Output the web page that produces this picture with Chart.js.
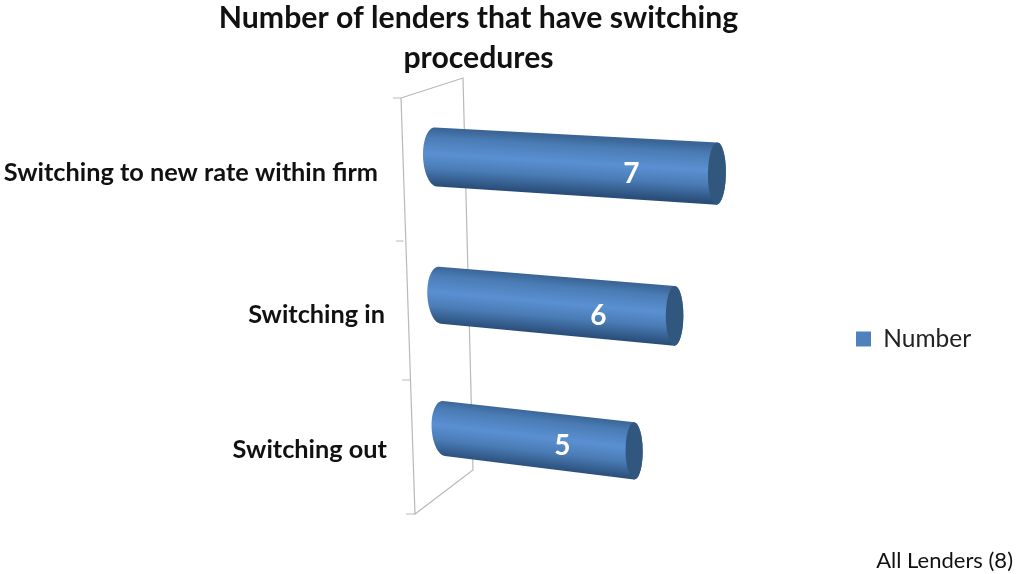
<!DOCTYPE html>
<html>
<head>
<meta charset="utf-8">
<title>Number of lenders that have switching procedures</title>
<script src="https://cdn.jsdelivr.net/npm/chart.js@4"></script>
<style>
  html, body { margin: 0; padding: 0; background: #fff; }
  canvas { display: block; }
</style>
</head>
<body>
<canvas id="chart" width="1017" height="574"></canvas>
<script>
const categories = ['Switching to new rate within firm', 'Switching in', 'Switching out'];
const numbers = [7, 6, 5];
const seriesName = 'Number';
const titleLines = ['Number of lenders that have switching', 'procedures'];
const footnote = 'All Lenders (8)';

// fake 3d look: flat plot pixels get bent a bit, like the excel perspective
const firstRowY = 157;
const rowSpan = 135.5;
function project(plotLeft, x, y) {
  const f = y - firstRowY;
  const bump = 2.5 * (1 - Math.pow((f - rowSpan) / rowSpan, 2));
  return {
    x: plotLeft + (x - plotLeft) * (1 - 0.000172 * f) + 0.03 * f,
    y: y + bump + (x - plotLeft) * (0.059 + 0.000196 * f)
  };
}

// side wall behind the bars
const wallLine = '#b9b9b9';
const wallOutline = [[401, 98], [463, 78], [473, 470], [415, 514]];
const wallTicks = [[393, 401, 98], [396, 403.5, 241], [402, 410, 380], [406, 415, 514]];

// label placement
const labelRight = [378, 385, 387];
const labelNudgeY = [16, 22.5, 22];
const valueAlong = [0.70, 0.68, 0.63];
const valueNudgeY = [5, 7, 3];

function halfEllipse(pts, plotLeft, cx, cy, rx, ry, from, to) {
  for (let i = 0; i <= 24; i++) {
    const a = from + (to - from) * i / 24;
    pts.push(project(plotLeft, cx + rx * Math.cos(a), cy + ry * Math.sin(a)));
  }
}

function tracePts(ctx, pts) {
  ctx.beginPath();
  pts.forEach((p, i) => i ? ctx.lineTo(p.x, p.y) : ctx.moveTo(p.x, p.y));
  ctx.closePath();
}

function drawCylinder(ctx, plotLeft, bar) {
  const ry = bar.height / 2;
  const leftRx = 13, capRx = 9;
  const body = [];
  halfEllipse(body, plotLeft, bar.base + 4, bar.y, leftRx, ry, -Math.PI / 2, -Math.PI * 1.5);
  halfEllipse(body, plotLeft, bar.x, bar.y, capRx, ry, Math.PI / 2, -Math.PI / 2);

  // shading runs across the cylinder, so it has to follow the slope
  const a = project(plotLeft, bar.base, bar.y);
  const b = project(plotLeft, bar.x, bar.y);
  const len = Math.hypot(b.x - a.x, b.y - a.y);
  const nx = -(b.y - a.y) / len, ny = (b.x - a.x) / len;
  const mx = (a.x + b.x) / 2, my = (a.y + b.y) / 2;
  const grad = ctx.createLinearGradient(mx - nx * ry, my - ny * ry, mx + nx * ry, my + ny * ry);
  grad.addColorStop(0, '#3a6596');
  grad.addColorStop(0.16, '#4a7cb5');
  grad.addColorStop(0.45, '#5a90d2');
  grad.addColorStop(0.7, '#4a7cb6');
  grad.addColorStop(1, '#2a4e79');
  tracePts(ctx, body);
  ctx.fillStyle = grad;
  ctx.fill();

  const cap = [];
  halfEllipse(cap, plotLeft, bar.x, bar.y, capRx, ry, 0, Math.PI * 2);
  tracePts(ctx, cap);
  ctx.fillStyle = '#31577f';
  ctx.fill();
}

const cylinderPlugin = {
  id: 'cylinders',
  afterLayout(chart) {
    // excel keeps title and legend where it wants them
    const t = chart.titleBlock;
    t.left = 0; t.right = 957;
    t.top -= 2; t.bottom -= 2;
    const l = chart.legend;
    const w = l.width, h = l.height;
    l.left = 846; l.right = 846 + w;
    l.top = 339 - h / 2; l.bottom = l.top + h;
  },
  beforeDatasetsDraw(chart) {
    const ctx = chart.ctx;
    ctx.save();
    ctx.strokeStyle = wallLine;
    ctx.lineWidth = 1.2;
    ctx.beginPath();
    wallOutline.forEach((p, i) => i ? ctx.lineTo(p[0], p[1]) : ctx.moveTo(p[0], p[1]));
    ctx.closePath();
    wallTicks.forEach(t => { ctx.moveTo(t[0], t[2]); ctx.lineTo(t[1], t[2]); });
    ctx.stroke();
    const plotLeft = chart.chartArea.left;
    chart.getDatasetMeta(0).data.forEach(bar => drawCylinder(ctx, plotLeft, bar));
    ctx.restore();
  },
  beforeDatasetDraw() {
    return false; // bars already painted as cylinders
  },
  afterDraw(chart) {
    const ctx = chart.ctx;
    const plotLeft = chart.chartArea.left;
    const yScale = chart.scales.y, xScale = chart.scales.x;
    ctx.save();
    ctx.textBaseline = 'middle';

    ctx.fillStyle = '#111';
    ctx.textAlign = 'right';
    ctx.font = 'bold 25.3px Lato';
    categories.forEach((c, i) => {
      ctx.fillText(c, labelRight[i], yScale.getPixelForValue(i) + labelNudgeY[i]);
    });

    ctx.fillStyle = '#fff';
    ctx.textAlign = 'center';
    ctx.font = 'bold 28px Lato';
    numbers.forEach((v, i) => {
      const p = project(plotLeft, xScale.getPixelForValue(v * valueAlong[i]), yScale.getPixelForValue(i));
      ctx.fillText(String(v), p.x, p.y + valueNudgeY[i]);
    });

    ctx.fillStyle = '#111';
    ctx.textAlign = 'right';
    ctx.font = '22px Lato';
    ctx.fillText(footnote, 1013, 561);
    ctx.restore();
  }
};

new Chart(document.getElementById('chart'), {
  type: 'bar',
  data: {
    labels: categories,
    datasets: [{
      label: seriesName,
      data: numbers,
      backgroundColor: '#4f81bd',
      barPercentage: 0.42,
      categoryPercentage: 1
    }]
  },
  plugins: [cylinderPlugin],
  options: {
    indexAxis: 'y',
    responsive: false,
    animation: false,
    layout: { padding: { right: 178, bottom: 78 } },
    scales: {
      x: { display: false, min: 0, max: 10 },
      y: {
        grid: { display: false },
        border: { display: false },
        ticks: { display: false },
        afterFit(scale) { scale.width = 432; }
      }
    },
    plugins: {
      tooltip: { enabled: false },
      title: {
        display: true,
        text: titleLines,
        color: '#111',
        font: { family: 'Lato', size: 30.2, weight: 'bold', lineHeight: 1.325 },
        padding: { top: 0, bottom: 9 }
      },
      legend: {
        position: 'chartArea',
        labels: {
          boxWidth: 15,
          boxHeight: 15,
          padding: 10,
          color: '#222',
          font: { family: 'Lato', size: 24.5 }
        }
      }
    }
  }
});
</script>
</body>
</html>
